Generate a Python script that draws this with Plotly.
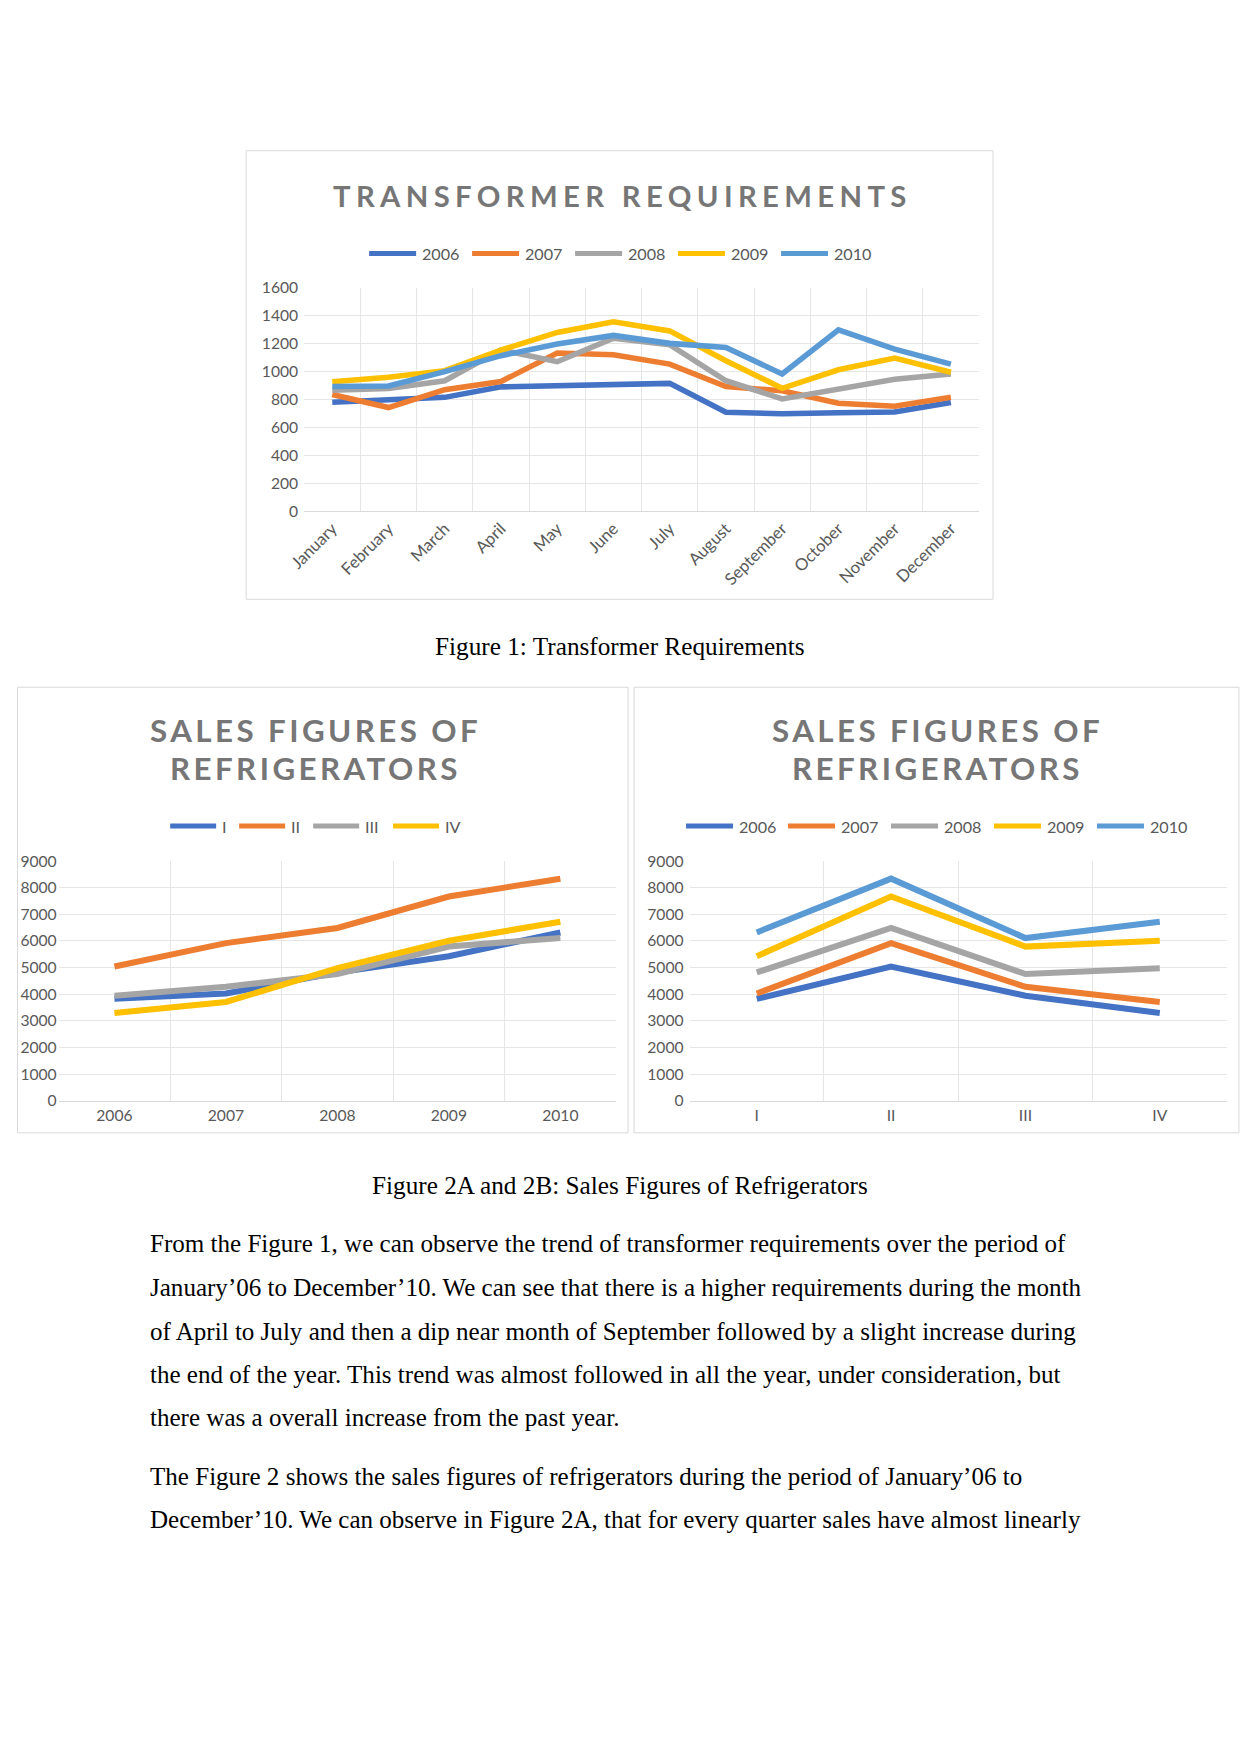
import plotly.graph_objects as go

# ---------------- DATA ----------------
months = ["January", "February", "March", "April", "May", "June", "July",
          "August", "September", "October", "November", "December"]
years = ["2006", "2007", "2008", "2009", "2010"]
quarters = ["I", "II", "III", "IV"]

req_2006 = [780, 802, 815, 890, 896, 900, 915, 708, 698, 705, 710, 778]
req_2007 = [835, 742, 870, 928, 1132, 1120, 1053, 892, 862, 773, 752, 815]
req_2008 = [866, 878, 934, 1155, 1070, 1238, 1192, 934, 804, 875, 945, 982]
req_2009 = [927, 958, 1006, 1153, 1279, 1355, 1290, 1077, 880, 1012, 1096, 995]
req_2010 = [892, 896, 999, 1113, 1196, 1258, 1201, 1172, 982, 1298, 1160, 1053]

sales_I = [3830, 4030, 4820, 5430, 6320]
sales_II = [5040, 5920, 6490, 7670, 8340]
sales_III = [3945, 4280, 4760, 5790, 6110]
sales_IV = [3295, 3710, 4980, 6010, 6720]

title1 = "TRANSFORMER REQUIREMENTS"
title2_lines = ["SALES FIGURES OF", "REFRIGERATORS"]
caption1 = "Figure 1: Transformer Requirements"
caption2 = "Figure 2A and 2B: Sales Figures of Refrigerators"
body_lines = [
    "From the Figure 1, we can observe the trend of transformer requirements over the period of",
    "January\u201906 to December\u201910. We can see that there is a higher requirements during the month",
    "of April to July and then a dip near month of September followed by a slight increase during",
    "the end of the year. This trend was almost followed in all the year, under consideration, but",
    "there was a overall increase from the past year.",
    "The Figure 2 shows the sales figures of refrigerators during the period of January\u201906 to",
    "December\u201910. We can observe in Figure 2A, that for every quarter sales have almost linearly",
]

# ---------------- STYLE / PAGE GEOMETRY ----------------
W, H = 1241, 1754
# measured mapping from figure pixels to the photographed page
SCX, BX = 0.9865, 16.8
SCY, BY = 0.9906, 9.2
K = 1 / 0.99
COLORS = ["#4472C4", "#ED7D31", "#A5A5A5", "#FFC000", "#5B9BD5"]
GRID = "#E6E6E6"
AXIS = "#D9D9D9"
TXT = "#595959"
TITLE_C = "#767676"
SANS = "Lato"
SERIF = "Liberation Serif"


def px_fig_x(p):
    return min(max((p - BX) / SCX, 0.5), W - 0.5)


def px_fig_y(p):
    return min(max((p - BY) / SCY, 0.5), H - 0.5)


def fx(p):
    return px_fig_x(p) / W


def fy(p):
    return 1 - px_fig_y(p) / H


fig = go.Figure()

req_series = [req_2006, req_2007, req_2008, req_2009, req_2010]
for name, vals, col in zip(years, req_series, COLORS):
    fig.add_trace(go.Scatter(x=months, y=vals, mode="lines", name=name,
                             line=dict(color=col, width=5.5 * K), xaxis="x", yaxis="y",
                             showlegend=False))

quarter_series = [sales_I, sales_II, sales_III, sales_IV]
for name, vals, col in zip(quarters, quarter_series, COLORS):
    fig.add_trace(go.Scatter(x=years, y=vals, mode="lines", name=name,
                             line=dict(color=col, width=6 * K), xaxis="x2", yaxis="y2",
                             showlegend=False))

for i, (name, col) in enumerate(zip(years, COLORS)):
    vals = [q[i] for q in quarter_series]
    fig.add_trace(go.Scatter(x=quarters, y=vals, mode="lines", name=name,
                             line=dict(color=col, width=6 * K), xaxis="x3", yaxis="y3",
                             showlegend=False))


def xax(domain, anchor, n, fsize, angle=0):
    return dict(domain=domain, anchor=anchor, type="category", range=[-0.5, n - 0.5],
                tickson="boundaries", showgrid=True, gridcolor=GRID, gridwidth=1,
                showline=True, linecolor=AXIS, linewidth=1, ticks="",
                tickangle=angle, tickfont=dict(family=SANS, size=fsize * K, color=TXT),
                zeroline=False, fixedrange=True)


def yax(domain, anchor, top, dtick, fsize, standoff=5):
    return dict(domain=domain, anchor=anchor, range=[0, top], dtick=dtick,
                showgrid=True, gridcolor=GRID, gridwidth=1, showline=False,
                zeroline=False, ticks="", ticklabelstandoff=standoff,
                tickfont=dict(family=SANS, size=fsize * K, color=TXT), fixedrange=True)


layout = dict(
    width=W, height=H, autosize=False,
    margin=dict(l=0, r=0, t=0, b=0),
    paper_bgcolor="white", plot_bgcolor="white",
    showlegend=False,
    xaxis=xax([fx(304), fx(979)], "y", len(months), 16.5, -45),
    yaxis=yax([fy(511), fy(287)], "x", 1600, 200, 15.5),
    xaxis2=xax([fx(58.5), fx(616)], "y2", len(years), 15.5),
    yaxis2=yax([fy(1101), fy(861)], "x2", 9000, 1000, 15.5, standoff=1),
    xaxis3=xax([fx(689.5), fx(1227)], "y3", len(quarters), 15.5),
    yaxis3=yax([fy(1101), fy(861)], "x3", 9000, 1000, 15.5),
)
fig.update_layout(**layout)

shapes = []
annotations = []

# chart borders
for (x0, y0, x1, y1) in [(246, 150, 993, 599), (1, 687, 628, 1133), (634, 687, 1239, 1133)]:
    shapes.append(dict(type="rect", xref="paper", yref="paper",
                       x0=fx(x0), x1=fx(x1), y0=fy(y1), y1=fy(y0),
                       line=dict(color=AXIS, width=1), fillcolor="rgba(0,0,0,0)"))


def title(text, xc, yc, size, spacing):
    annotations.append(dict(
        text='<span style="letter-spacing:%.2fpx">%s</span>' % (spacing * K, text),
        xref="paper", yref="paper", x=fx(xc + spacing / 2.0), y=fy(yc),
        xanchor="center", yanchor="middle", showarrow=False, align="center",
        borderpad=0, borderwidth=0,
        font=dict(family=SANS, size=size * K, color=TITLE_C, weight="bold")))


title(title1, 620, 195, 29, 5.3)
for xc in (314, 936):
    title(title2_lines[0], xc, 730, 31, 3.4)
    title(title2_lines[1], xc, 768, 31, 3.4)


def legend(names, starts, yc, fsize, length=47):
    for name, col, x0 in zip(names, COLORS, starts):
        shapes.append(dict(type="line", xref="paper", yref="paper",
                           x0=fx(x0), x1=fx(x0 + length), y0=fy(yc), y1=fy(yc),
                           line=dict(color=col, width=5 * K)))
        annotations.append(dict(text=name, xref="paper", yref="paper",
                                x=fx(x0 + length + 6), y=fy(yc), xanchor="left",
                                yanchor="middle", showarrow=False,
                                borderpad=0, borderwidth=0,
                                font=dict(family=SANS, size=fsize * K, color=TXT)))


legend(years, [369, 472, 575, 678, 781], 253, 16)
legend(quarters, [170, 239, 313, 393], 826, 16, 46)
legend(years, [686, 788, 891, 994, 1097], 826, 16, 47)

# captions
for text, yc in [(caption1, 646), (caption2, 1185)]:
    annotations.append(dict(text=text, xref="paper", yref="paper", x=fx(620), y=fy(yc),
                            xanchor="center", yanchor="middle", showarrow=False,
                            borderpad=0, borderwidth=0,
                            font=dict(family=SERIF, size=25 * K, color="black")))

# body text
body_y = [1244, 1288, 1332, 1375, 1418, 1477, 1520]
for text, yc in zip(body_lines, body_y):
    annotations.append(dict(text=text, xref="paper", yref="paper", x=fx(150), y=fy(yc),
                            xanchor="left", yanchor="middle", showarrow=False, align="left",
                            borderpad=0, borderwidth=0,
                            font=dict(family=SERIF, size=24.8 * K, color="black")))

fig.update_layout(shapes=shapes, annotations=annotations)

fig.write_html("out.html", config={"displayModeBar": False},
               post_script="document.body.style.margin='0';")
